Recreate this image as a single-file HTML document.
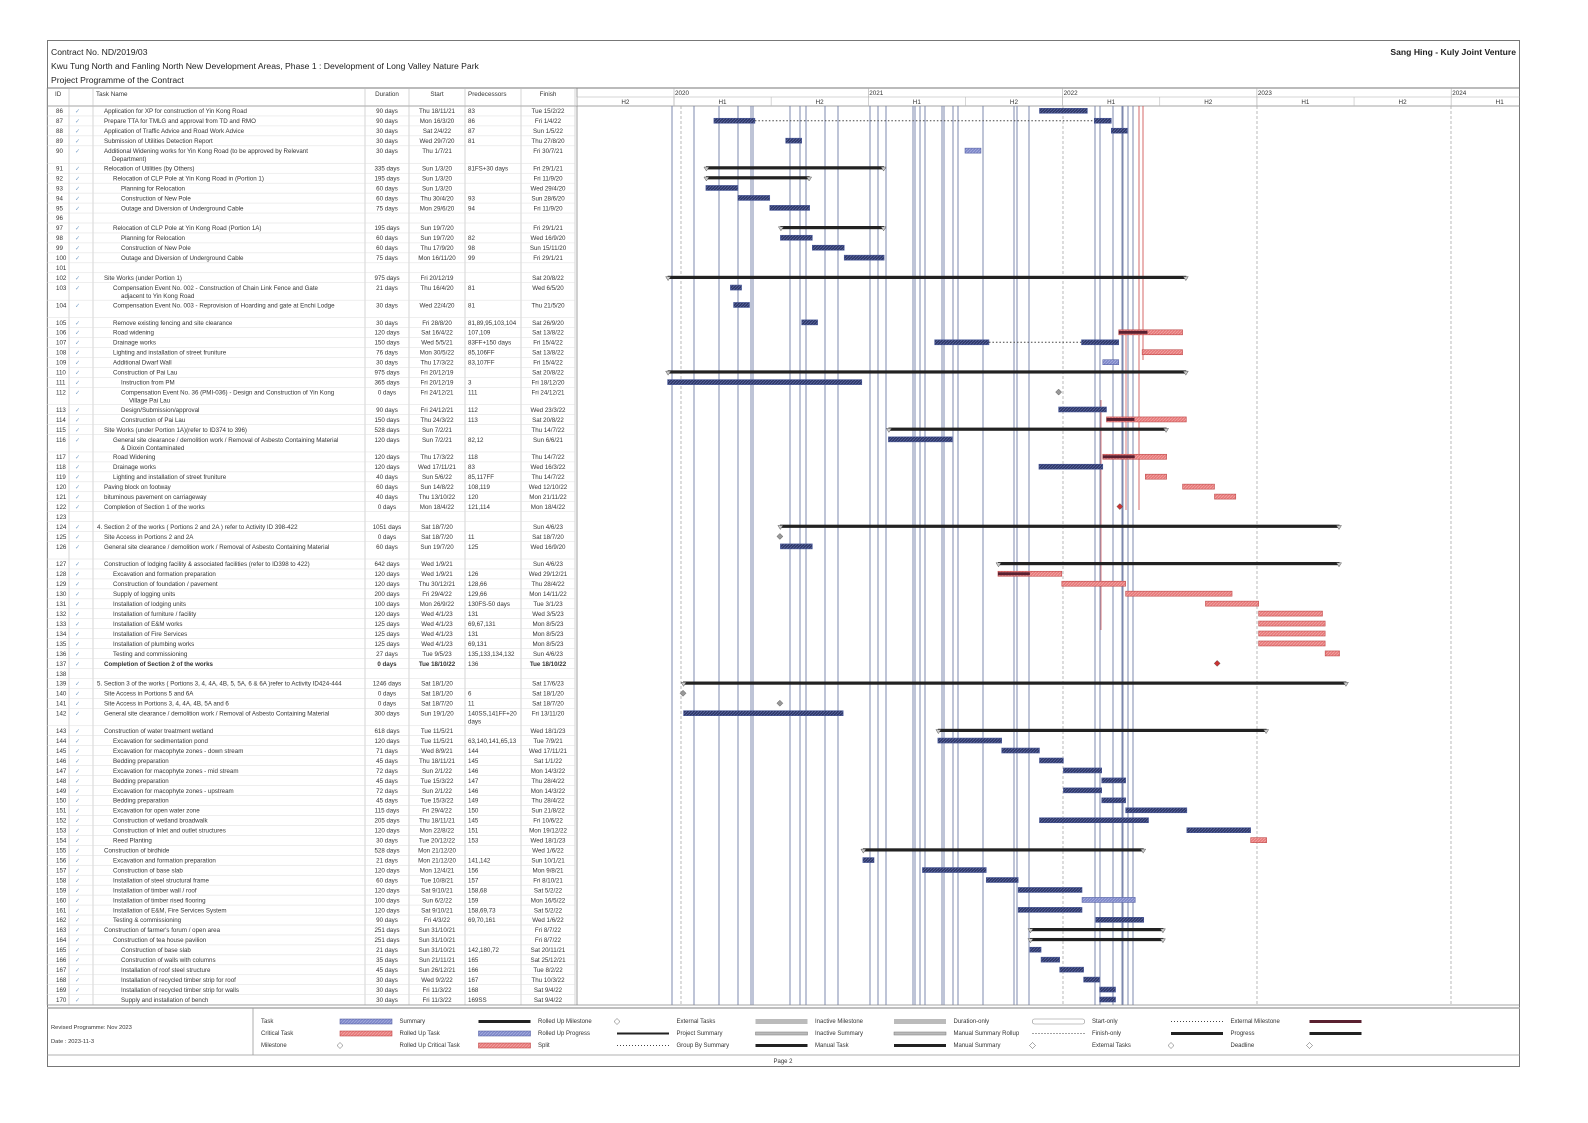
<!DOCTYPE html>
<html><head><meta charset="utf-8"><style>
html,body{margin:0;padding:0;background:#fff;overflow:hidden;width:1588px;height:1123px;}
svg{display:block;font-family:"Liberation Sans",sans-serif;}
</style></head><body>
<svg id="s" width="1588" height="1123" viewBox="0 0 1588 1123" xmlns="http://www.w3.org/2000/svg">
<defs>
<pattern id="pb" width="3" height="3" patternUnits="userSpaceOnUse"><rect width="3" height="3" fill="#2d3766"/><path d="M0,3L3,0" stroke="#5a66a0" stroke-width="0.8"/></pattern>
<pattern id="pr" width="3" height="3" patternUnits="userSpaceOnUse"><rect width="3" height="3" fill="#e77a7a"/><path d="M0,3L3,0" stroke="#f2a5a5" stroke-width="0.8"/></pattern>
<pattern id="pl" width="3" height="3" patternUnits="userSpaceOnUse"><rect width="3" height="3" fill="#7f88c8"/><path d="M0,3L3,0" stroke="#a7aee0" stroke-width="0.8"/></pattern>
</defs>
</svg>
<script>
(function(){
var S=document.getElementById('s'),NS='http://www.w3.org/2000/svg';
function el(t,a,txt){var e=document.createElementNS(NS,t);for(var k in a)e.setAttribute(k,a[k]);if(txt!=null)e.textContent=txt;S.appendChild(e);return e;}
function line(x1,y1,x2,y2,c,w,d){var a={x1:x1,y1:y1,x2:x2,y2:y2,stroke:c||'#999','stroke-width':w||0.6};if(d)a['stroke-dasharray']=d;return el('line',a);}
function txt(x,y,s,sz,anc,col,bold){var a={x:x,y:y,'font-size':sz||6.3,fill:col||'#333'};if(anc)a['text-anchor']=anc;if(bold)a['font-weight']='bold';return el('text',a,s);}
function X(d){var p=d.split(' ').pop().split('/');var t=Date.UTC(2000+ +p[2],+p[1]-1,+p[0]);return 674+(t-Date.UTC(2020,0,1))/864e5*0.532;}
el('rect',{x:47.5,y:40.5,width:1472,height:1026,fill:'none',stroke:'#777','stroke-width':1});
txt(51,55,'Contract No. ND/2019/03',8.6,null,'#222');
txt(51,69,'Kwu Tung North and Fanling North New Development Areas, Phase 1 : Development of Long Valley Nature Park',8.6,null,'#222');
txt(51,83,'Project Programme of the Contract',8.6,null,'#222');
txt(1516,55,'Sang Hing - Kuly Joint Venture',8.6,'end','#222',true);
line(47,88,1520,88,'#777',1);
var cols=[47,69,93,365,409,465,521,575];
line(47,106,1520,106,'#888',0.8);
cols.forEach(function(c){line(c,88,c,1005,'#bbb',0.6);});
line(577,88,577,1005,'#888',0.8);
txt(55,96,'ID',6.3);txt(96,96,'Task Name',6.3);txt(387,96,'Duration',6.3,'middle');txt(437,96,'Start',6.3,'middle');txt(468,96,'Predecessors',6.3);txt(548,96,'Finish',6.3,'middle');
line(577,97,1520,97,'#aaa',0.6);
for(var yr=2019;yr<=2024;yr++){var x=674+(yr-2020)*194.3;
 if(yr>=2020){line(x,88,x,106,'#aaa',0.6);txt(x+1,95,''+yr,6.3);}
 [0,1].forEach(function(h){var xs=x+h*97.15;if(yr==2019&&h==0)return;if(xs>1520)return;line(xs,97,xs,106,'#bbb',0.6);var xm=xs+48.5;if(xm<1515)txt(xm,104,'H'+(h+1),6.3,'middle');});}
var vl=[672,694,719,738,751,753,790,800,806,825,838,870,878,886,913,915,920,925,942,944,953,958,983,1014,1017,1029,1095,1100,1113,1122,1123,1128,1133];
vl.forEach(function(x){line(x,106,x,1005,'#6f7ca6',0.9);});
[681,1063,1257,1451].forEach(function(x){line(x,106,x,1005,'#aaa',0.8,'3,2');});
line(1139,106,1139,510,'#c44',0.8);line(1143,106,1143,360,'#c44',0.8);line(1126,330,1126,510,'#c44',0.7);line(1101,400,1101,630,'#c44',0.7);
var R=[
[86,1,'Application for XP for construction of Yin Kong Road','90 days','Thu 18/11/21','Tue 15/2/22','83','t'],
[87,1,'Prepare TTA for TMLG and approval from TD and RMO','90 days','Mon 16/3/20','Fri 1/4/22','86','sp'],
[88,1,'Application of Traffic Advice and Road Work Advice','30 days','Sat 2/4/22','Sun 1/5/22','87','t'],
[89,1,'Submission of Utilities Detection Report','30 days','Wed 29/7/20','Thu 27/8/20','81','t'],
[90,1,'Additional Widening works for Yin Kong Road (to be approved by Relevant','30 days','Thu 1/7/21','Fri 30/7/21','','l','Department)'],
[91,1,'Relocation of Utilities (by Others)','335 days','Sun 1/3/20','Fri 29/1/21','81FS+30 days','s'],
[92,2,'Relocation of CLP Pole at Yin Kong Road in (Portion 1)','195 days','Sun 1/3/20','Fri 11/9/20','','s'],
[93,3,'Planning for Relocation','60 days','Sun 1/3/20','Wed 29/4/20','','t'],
[94,3,'Construction of New Pole','60 days','Thu 30/4/20','Sun 28/6/20','93','t'],
[95,3,'Outage and Diversion of Underground Cable','75 days','Mon 29/6/20','Fri 11/9/20','94','t'],
[96],
[97,2,'Relocation of CLP Pole at Yin Kong Road (Portion 1A)','195 days','Sun 19/7/20','Fri 29/1/21','','s'],
[98,3,'Planning for Relocation','60 days','Sun 19/7/20','Wed 16/9/20','82','t'],
[99,3,'Construction of New Pole','60 days','Thu 17/9/20','Sun 15/11/20','98','t'],
[100,3,'Outage and Diversion of Underground Cable','75 days','Mon 16/11/20','Fri 29/1/21','99','t'],
[101],
[102,1,'Site Works (under Portion 1)','975 days','Fri 20/12/19','Sat 20/8/22','','s'],
[103,2,'Compensation Event No. 002 - Construction of Chain Link Fence and Gate','21 days','Thu 16/4/20','Wed 6/5/20','81','t','adjacent to Yin Kong Road'],
[104,2,'Compensation Event No. 003 - Reprovision of Hoarding and gate at Enchi Lodge','30 days','Wed 22/4/20','Thu 21/5/20','81','t',''],
[105,2,'Remove existing fencing and site clearance','30 days','Fri 28/8/20','Sat 26/9/20','81,89,95,103,104','t'],
[106,2,'Road widening','120 days','Sat 16/4/22','Sat 13/8/22','107,109','c'],
[107,2,'Drainage works','150 days','Wed 5/5/21','Fri 15/4/22','83FF+150 days','sp2'],
[108,2,'Lighting and installation of street fruniture','76 days','Mon 30/5/22','Sat 13/8/22','85,106FF','c'],
[109,2,'Additional Dwarf Wall','30 days','Thu 17/3/22','Fri 15/4/22','83,107FF','l'],
[110,2,'Construction of Pai Lau','975 days','Fri 20/12/19','Sat 20/8/22','','s'],
[111,3,'Instruction from PM','365 days','Fri 20/12/19','Fri 18/12/20','3','t'],
[112,3,'Compensation Event No. 36 (PMI-036) - Design and Construction of Yin Kong','0 days','Fri 24/12/21','Fri 24/12/21','111','m','Village Pai Lau'],
[113,3,'Design/Submission/approval','90 days','Fri 24/12/21','Wed 23/3/22','112','t'],
[114,3,'Construction of Pai Lau','150 days','Thu 24/3/22','Sat 20/8/22','113','c'],
[115,1,'Site Works (under Portion 1A)(refer to ID374 to 396)','528 days','Sun 7/2/21','Thu 14/7/22','','s'],
[116,2,'General site clearance / demolition work / Removal of Asbesto Containing Material','120 days','Sun 7/2/21','Sun 6/6/21','82,12','t','& Dioxin Contaminated'],
[117,2,'Road Widening','120 days','Thu 17/3/22','Thu 14/7/22','118','c'],
[118,2,'Drainage works','120 days','Wed 17/11/21','Wed 16/3/22','83','t'],
[119,2,'Lighting and installation of street fruniture','40 days','Sun 5/6/22','Thu 14/7/22','85,117FF','c'],
[120,1,'Paving block on footway','60 days','Sun 14/8/22','Wed 12/10/22','108,119','c'],
[121,1,'bituminous pavement on carriageway','40 days','Thu 13/10/22','Mon 21/11/22','120','c'],
[122,1,'Completion of Section 1 of the works','0 days','Mon 18/4/22','Mon 18/4/22','121,114','mc'],
[123],
[124,0,'4. Section 2 of the works ( Portions 2 and 2A ) refer to Activity ID 398-422','1051 days','Sat 18/7/20','Sun 4/6/23','','s'],
[125,1,'Site Access in Portions 2 and 2A','0 days','Sat 18/7/20','Sat 18/7/20','11','m'],
[126,1,'General site clearance / demolition work / Removal of Asbesto Containing Material','60 days','Sun 19/7/20','Wed 16/9/20','125','t',''],
[127,1,'Construction of lodging facility & associated facilities (refer to ID398 to 422)','642 days','Wed 1/9/21','Sun 4/6/23','','s'],
[128,2,'Excavation and formation preparation','120 days','Wed 1/9/21','Wed 29/12/21','126','c'],
[129,2,'Construction of foundation / pavement','120 days','Thu 30/12/21','Thu 28/4/22','128,66','c'],
[130,2,'Supply of logging units','200 days','Fri 29/4/22','Mon 14/11/22','129,66','c'],
[131,2,'Installation of lodging units','100 days','Mon 26/9/22','Tue 3/1/23','130FS-50 days','c'],
[132,2,'Installation of furniture / facility','120 days','Wed 4/1/23','Wed 3/5/23','131','c'],
[133,2,'Installation of E&M works','125 days','Wed 4/1/23','Mon 8/5/23','69,67,131','c'],
[134,2,'Installation of Fire Services','125 days','Wed 4/1/23','Mon 8/5/23','131','c'],
[135,2,'Installation of plumbing works','125 days','Wed 4/1/23','Mon 8/5/23','69,131','c'],
[136,2,'Testing and commissioning','27 days','Tue 9/5/23','Sun 4/6/23','135,133,134,132','c'],
[137,1,'Completion of Section 2 of the works','0 days','Tue 18/10/22','Tue 18/10/22','136','mc'],
[138],
[139,0,'5. Section 3 of the works ( Portions 3, 4, 4A, 4B, 5, 5A, 6 & 6A )refer to Activity ID424-444','1246 days','Sat 18/1/20','Sat 17/6/23','','s'],
[140,1,'Site Access in Portions 5 and 6A','0 days','Sat 18/1/20','Sat 18/1/20','6','m'],
[141,1,'Site Access in Portions 3, 4, 4A, 4B, 5A and 6','0 days','Sat 18/7/20','Sat 18/7/20','11','m'],
[142,1,'General site clearance / demolition work / Removal of Asbesto Containing Material','300 days','Sun 19/1/20','Fri 13/11/20','140SS,141FF+20','t',''],
[143,1,'Construction of water treatment wetland','618 days','Tue 11/5/21','Wed 18/1/23','','s'],
[144,2,'Excavation for sedimentation pond','120 days','Tue 11/5/21','Tue 7/9/21','63,140,141,65,13','t'],
[145,2,'Excavation for macophyte zones - down stream','71 days','Wed 8/9/21','Wed 17/11/21','144','t'],
[146,2,'Bedding preparation','45 days','Thu 18/11/21','Sat 1/1/22','145','t'],
[147,2,'Excavation for macophyte zones - mid stream','72 days','Sun 2/1/22','Mon 14/3/22','146','t'],
[148,2,'Bedding preparation','45 days','Tue 15/3/22','Thu 28/4/22','147','t'],
[149,2,'Excavation for macophyte zones - upstream','72 days','Sun 2/1/22','Mon 14/3/22','146','t'],
[150,2,'Bedding preparation','45 days','Tue 15/3/22','Thu 28/4/22','149','t'],
[151,2,'Excavation for open water zone','115 days','Fri 29/4/22','Sun 21/8/22','150','t'],
[152,2,'Construction of wetland broadwalk','205 days','Thu 18/11/21','Fri 10/6/22','145','t'],
[153,2,'Construction of Inlet and outlet structures','120 days','Mon 22/8/22','Mon 19/12/22','151','t'],
[154,2,'Reed Planting','30 days','Tue 20/12/22','Wed 18/1/23','153','c'],
[155,1,'Construction of birdhide','528 days','Mon 21/12/20','Wed 1/6/22','','s'],
[156,2,'Excavation and formation preparation','21 days','Mon 21/12/20','Sun 10/1/21','141,142','t'],
[157,2,'Construction of base slab','120 days','Mon 12/4/21','Mon 9/8/21','156','t'],
[158,2,'Installation of steel structural frame','60 days','Tue 10/8/21','Fri 8/10/21','157','t'],
[159,2,'Installation of timber wall / roof','120 days','Sat 9/10/21','Sat 5/2/22','158,68','t'],
[160,2,'Installation of timber rised flooring','100 days','Sun 6/2/22','Mon 16/5/22','159','l'],
[161,2,'Installation of E&M, Fire Services System','120 days','Sat 9/10/21','Sat 5/2/22','158,69,73','t'],
[162,2,'Testing & commissioning','90 days','Fri 4/3/22','Wed 1/6/22','69,70,161','t'],
[163,1,"Construction of farmer's forum / open area",'251 days','Sun 31/10/21','Fri 8/7/22','','s'],
[164,2,'Construction of tea house pavilion','251 days','Sun 31/10/21','Fri 8/7/22','','s'],
[165,3,'Construction of base slab','21 days','Sun 31/10/21','Sat 20/11/21','142,180,72','t'],
[166,3,'Construction of walls with columns','35 days','Sun 21/11/21','Sat 25/12/21','165','t'],
[167,3,'Installation of roof steel structure','45 days','Sun 26/12/21','Tue 8/2/22','166','t'],
[168,3,'Installation of recycled timber strip for roof','30 days','Wed 9/2/22','Thu 10/3/22','167','t'],
[169,3,'Installation of recycled timber strip for walls','30 days','Fri 11/3/22','Sat 9/4/22','168','t'],
[170,3,'Supply and installation of bench','30 days','Fri 11/3/22','Sat 9/4/22','169SS','t']];
var prog={106:0.45,114:0.35,117:0.5,128:0.5,144:0.5};
var h=9.96,H=17.4,ty=106;
function bar(x1,x2,y,fill,stroke){el('rect',{x:x1,y:y-2.5,width:Math.max(x2-x1,2),height:5,fill:fill,stroke:stroke,'stroke-width':0.6});}
function dia(x,y,c){el('path',{d:'M'+x+','+(y-3)+'L'+(x+3)+','+y+'L'+x+','+(y+3)+'L'+(x-3)+','+y+'Z',fill:c,stroke:'#555','stroke-width':0.5});}
R.forEach(function(r){
 var dbl=r.length>8;var rh=dbl?H:h;var yb=ty+7.2;var yc=ty+4.8;
 txt(56,yb,''+r[0],6.2);
 if(r.length>1){
  txt(75,yb,'✓',6,null,'#7aa0c8');
  var ix=[97,104,113,121][r[1]];
  var bold=(r[0]==137);
  txt(ix,yb,r[2],6.2,null,'#333',bold);
  if(dbl&&r[8])txt(ix+8,yb+8,r[8],6.2);
  txt(387,yb,r[3],6.2,'middle','#333',bold);txt(437,yb,r[4],6.2,'middle','#333',bold);
  var pd=r[6];if(r[0]==142){txt(468,yb,pd,6.2);txt(468,yb+8,'days',6.2);}else txt(468,yb,pd,6.2);
  txt(548,yb,r[5],6.2,'middle','#333',bold);
  var x1=X(r[4]),x2=X(r[5])+0.5,t=r[7];
  if(t=='t')bar(x1,x2,yc,'url(#pb)','#4a5a9a');
  else if(t=='l')bar(x1,x2,yc,'url(#pl)','#5a66a8');
  else if(t=='c'){bar(x1,x2,yc,'url(#pr)','#c04a4a');if(prog[r[0]])el('rect',{x:x1,y:yc-1.5,width:(x2-x1)*prog[r[0]],height:3,fill:'#5a2030'});}
  else if(t=='s'){el('rect',{x:x1,y:yc-1.8,width:x2-x1,height:3.2,fill:'#222'});
    el('path',{d:'M'+(x1-2)+','+(yc-1)+'h5l-2.5,4z',fill:'#ccc',stroke:'#555','stroke-width':0.5});
    el('path',{d:'M'+(x2-3)+','+(yc-1)+'h5l-2.5,4z',fill:'#ccc',stroke:'#555','stroke-width':0.5});}
  else if(t=='m')dia(x1,yc,'#999');
  else if(t=='mc')dia(x1,yc,'#c33');
  else if(t=='sp'){var a=X('1/6/20');bar(x1,a,yc,'url(#pb)','#4a5a9a');line(a,yc,X('1/3/22'),yc,'#444',1,'1.5,2');bar(X('1/3/22'),x2,yc,'url(#pb)','#4a5a9a');}
  else if(t=='sp2'){var b=X('15/8/21');bar(x1,b,yc,'url(#pb)','#4a5a9a');line(b,yc,X('5/2/22'),yc,'#444',1,'1.5,2');bar(X('5/2/22'),x2,yc,'url(#pb)','#4a5a9a');}
 }
 ty+=rh;
 line(47,ty,575,ty,'#ddd',0.5);
});
line(47,1005,1520,1005,'#888',0.8);
line(47,1008,1520,1008,'#aaa',1.5);
txt(51,1029,'Revised Programme: Nov 2023',5.8);txt(51,1043,'Date : 2023-11-3',5.8);
line(253,1008,253,1055,'#999',0.8);
line(47,1055,1520,1055,'#999',0.8);
txt(783,1063,'Page 2',6,'middle');
var L=[['Task','Critical Task','Milestone'],['Summary','Rolled Up Task','Rolled Up Critical Task'],['Rolled Up Milestone','Rolled Up Progress','Split'],['External Tasks','Project Summary','Group By Summary'],['Inactive Milestone','Inactive Summary','Manual Task'],['Duration-only','Manual Summary Rollup','Manual Summary'],['Start-only','Finish-only','External Tasks'],['External Milestone','Progress','Deadline']];
var SW=['bl','rd','di','sm','bl','rd','di','pr','dot','gr','ps','sm','gr','ps','sm','box','dot','di','dot','sm','di','red','sm','di','teal','pr','di'];
L.forEach(function(c,i){var lx=261+i*138.5,sx=lx+79;c.forEach(function(s,j){var y=1021+j*12;txt(lx,y+2,s,6);
 var sw=SW[i*3+j];
 if(sw=='bl')el('rect',{x:sx,y:y-2,width:52,height:5,fill:'url(#pl)',stroke:'#5a66a8','stroke-width':0.6});
 else if(sw=='rd')el('rect',{x:sx,y:y-2,width:52,height:5,fill:'url(#pr)',stroke:'#c04a4a','stroke-width':0.6});
 else if(sw=='di')dia(sx,y+0.5,'#fff');
 else if(sw=='sm')el('rect',{x:sx,y:y-1,width:52,height:3,fill:'#222'});
 else if(sw=='ps')el('rect',{x:sx,y:y-1,width:52,height:3,fill:'#bbb',stroke:'#777','stroke-width':0.5});
 else if(sw=='pr')el('rect',{x:sx,y:y-0.5,width:52,height:2,fill:'#222'});
 else if(sw=='dot')line(sx,y+0.5,sx+52,y+0.5,'#444',1,'1,2');
 else if(sw=='gr')el('rect',{x:sx,y:y-2,width:52,height:5,fill:'#bbb'});
 else if(sw=='box')el('rect',{x:sx,y:y-2,width:52,height:5,fill:'#fff',stroke:'#888','stroke-width':0.6,rx:2});
 else if(sw=='red')el('rect',{x:sx,y:y-1,width:52,height:3,fill:'#5a2030'});
 else if(sw=='teal')el('rect',{x:sx,y:y-2,width:52,height:5,fill:'#3aaba5'});
});});
})();
</script>
</body></html>
